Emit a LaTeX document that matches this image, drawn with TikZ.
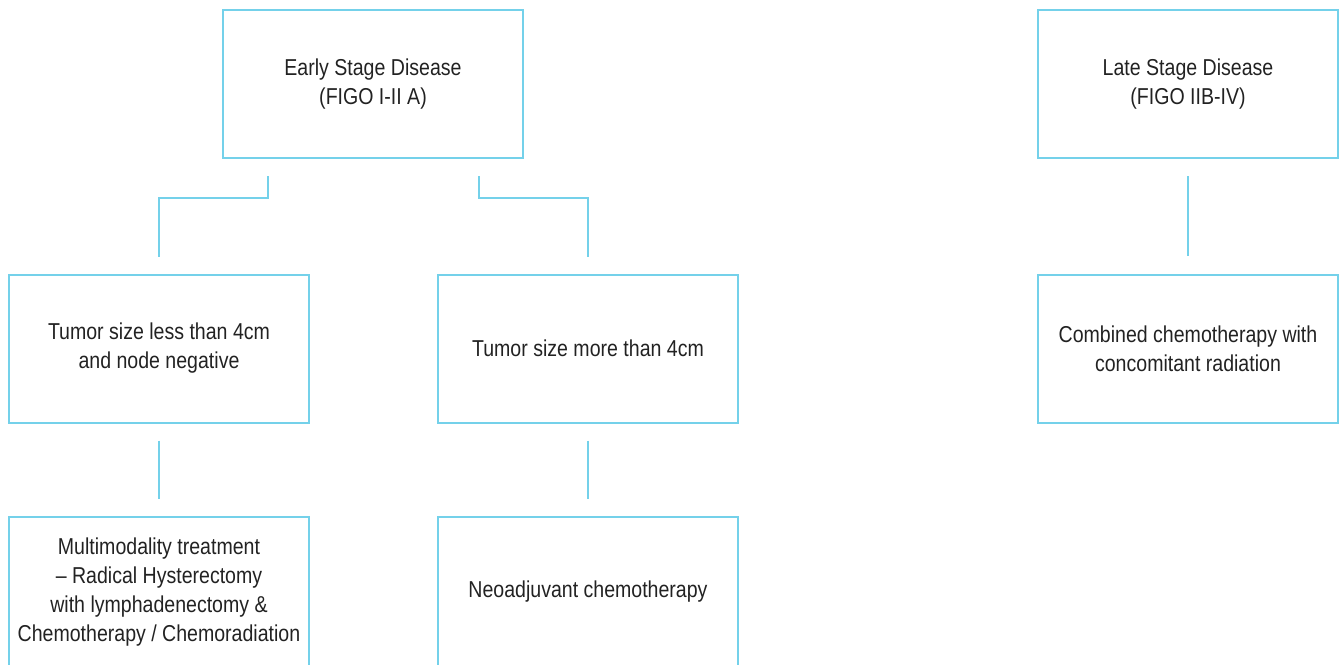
\documentclass[tikz,border=0pt]{standalone}
\usepackage{fontspec}
\setmainfont[FakeStretch=0.85]{Liberation Sans}
\usetikzlibrary{calc}
\definecolor{boxblue}{HTML}{74D1EA}
\definecolor{txt}{HTML}{222222}
\begin{document}
\begin{tikzpicture}[x=1pt,y=-1pt,
  box/.style={draw=boxblue,line width=2pt,minimum width=300pt,minimum height=148pt,
    align=center,text=txt,font=\fontsize{23}{29}\selectfont,inner sep=0pt},
  conn/.style={draw=boxblue,line width=2pt}]
\useasboundingbox (0,0) rectangle (1341,664);
\node[box] (early) at (373,84) {Early Stage Disease\\(FIGO I-II A)};
\node[box] (late) at (1188,84) {Late Stage Disease\\(FIGO IIB-IV)};
\node[box] (less) at (159,348.5) {Tumor size less than 4cm\\and node negative};
\node[box] (more) at (588,348.5) {Tumor size more than 4cm};
\node[box] (comb) at (1188,349) {Combined chemotherapy with\\concomitant radiation};
\node[box,minimum height=150pt] (multi) at (159,592) {Multimodality treatment\\– Radical Hysterectomy\\with lymphadenectomy \&\\Chemotherapy / Chemoradiation};
\node[box,minimum height=150pt] (neo) at (588,592) {Neoadjuvant chemotherapy};
\draw[conn] ($(early.south)+(-105,17)$) -- ++(0,22) -| ($(less.north)+(0,-17)$);
\draw[conn] ($(early.south)+(106,17)$) -- ++(0,22) -| ($(more.north)+(0,-17)$);
\draw[conn] ($(less.south)+(0,17)$) -- ($(multi.north)+(0,-17)$);
\draw[conn] ($(more.south)+(0,17)$) -- ($(neo.north)+(0,-17)$);
\draw[conn] ($(late.south)+(0,17)$) -- ($(comb.north)+(0,-18)$);
\end{tikzpicture}
\end{document}
